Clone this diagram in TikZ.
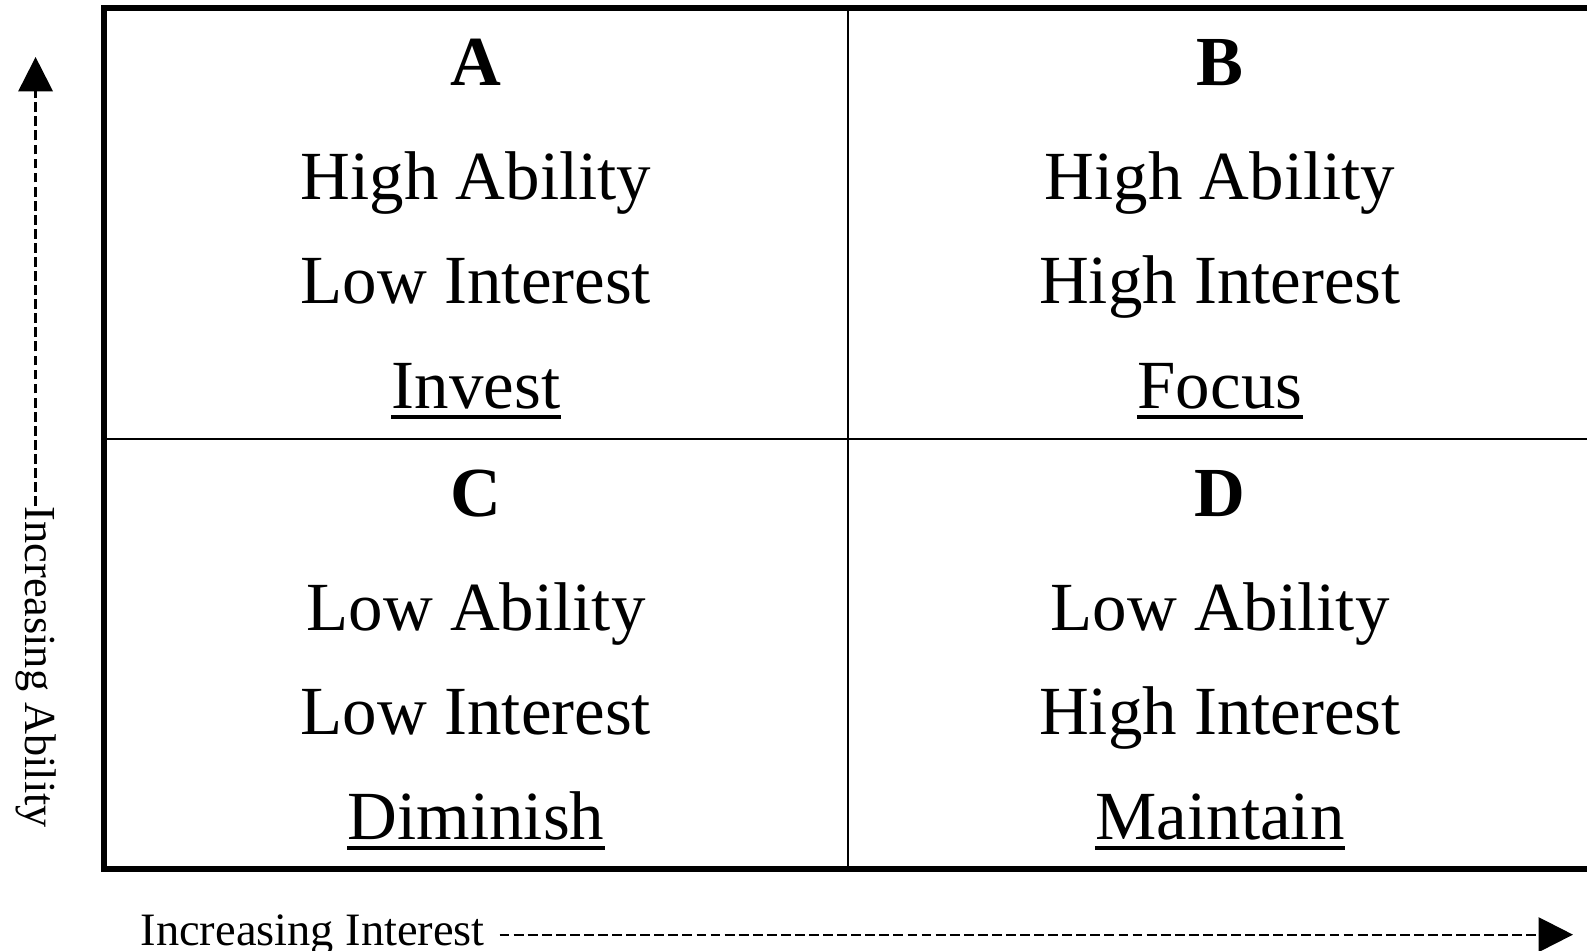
\documentclass[tikz,border=0pt]{standalone}
\usepackage{fontspec}
\setmainfont{Liberation Serif}
\usetikzlibrary{arrows.meta}

\tikzset{
  outerframe/.style={line width=1.6pt, line join=miter},
  divider/.style={line width=0.7pt},
  cellhead/.style={font=\fontsize{20}{24}\selectfont\bfseries, anchor=base, inner sep=0pt},
  celltext/.style={font=\fontsize{19.6}{23}\selectfont, anchor=base, inner sep=0pt},
  ulrule/.style={line width=1.1pt},
  axislabel/.style={inner sep=0pt},
  axisarrow/.style={line width=0.65pt, dash pattern=on 2.8pt off 1.2pt,
    -{Triangle[length=9.8pt, width=9.8pt]}}
}

\begin{document}
\begin{tikzpicture}[x=0.01cm, y=-0.01cm]
  \clip (0,0) rectangle (1587,950);

  % 2x2 grid
  \draw[outerframe] (104,8) rectangle (1592,869);
  \draw[divider] (848,8) -- (848,869);
  \draw[divider] (104,439) -- (1592,439);

  % top row
  \node[cellhead] (a) at (476,85) {A};
  \node[celltext] (a1) at (476,199) {High Ability};
  \node[celltext] (a2) at (476,303) {Low Interest};
  \node[celltext] (invest) at (476,408) {Invest};
  \node[cellhead] (b) at (1220,85) {B};
  \node[celltext] (b1) at (1220,199) {High Ability};
  \node[celltext] (b2) at (1220,303) {High Interest};
  \node[celltext] (focus) at (1220,408) {Focus};

  % bottom row
  \node[cellhead] (c) at (476,516) {C};
  \node[celltext] (c1) at (476,630) {Low Ability};
  \node[celltext] (c2) at (476,734) {Low Interest};
  \node[celltext] (diminish) at (476,839) {Diminish};
  \node[cellhead] (d) at (1220,516) {D};
  \node[celltext] (d1) at (1220,630) {Low Ability};
  \node[celltext] (d2) at (1220,734) {High Interest};
  \node[celltext] (maintain) at (1220,839) {Maintain};

  \foreach \w in {invest,focus,diminish,maintain}
    \draw[ulrule] ([yshift=-2.6pt]\w.base west) -- ([yshift=-2.6pt]\w.base east);

  % axes
  \node[axislabel, font=\fontsize{12.6}{15}\selectfont, rotate=-90, anchor=base west]
    (ylabel) at (25,506) {Increasing Ability};
  \coordinate (ytip) at (33,57);
  \draw[axisarrow] (ylabel.west) -- (ylabel.west |- ytip);

  \node[axislabel, font=\fontsize{13.2}{16}\selectfont, anchor=base west]
    (xlabel) at (140,945) {Increasing Interest};
  \coordinate (xtip) at (1573,929);
  \draw[axisarrow, shorten <=4pt] (xlabel.east) -- (xlabel.east -| xtip);
\end{tikzpicture}
\end{document}
